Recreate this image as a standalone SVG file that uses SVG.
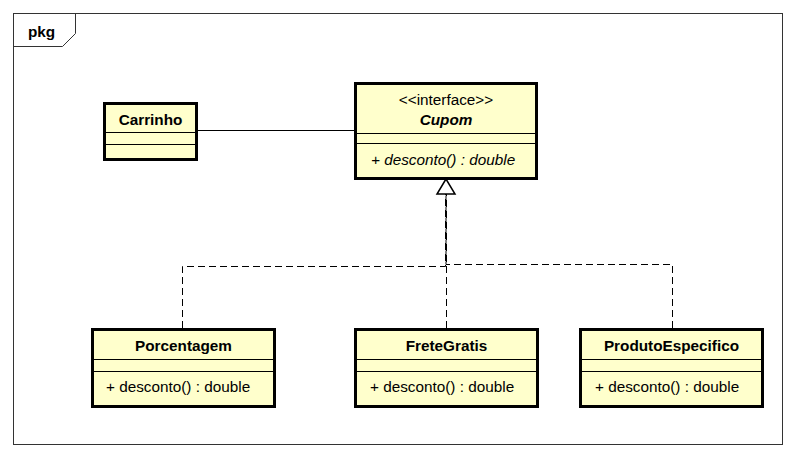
<svg xmlns="http://www.w3.org/2000/svg" width="796" height="458" viewBox="0 0 796 458">
<style>
text{font-family:"Liberation Sans",Arial,sans-serif;font-size:15.3px;fill:#000}
.b{font-weight:bold}
.c{text-anchor:middle}
.box{fill:#FFFFCC;stroke:#000;stroke-width:3}
.div{stroke:#000;stroke-width:1}
.dash{fill:none;stroke:#000;stroke-width:1;stroke-dasharray:7,4}
</style>
<rect width="796" height="458" fill="#fff"/>
<g id="frame">
<rect x="13.5" y="13.5" width="769" height="431" fill="none" stroke="#333" stroke-width="1"/>
<path d="M13.5 46.5 H62.5 L75.5 33.5 V13.5" fill="none" stroke="#333" stroke-width="1"/>
<text class="b" x="28" y="37">pkg</text>
</g>
<g id="connectors">
<line x1="197" y1="130.5" x2="355" y2="130.5" stroke="#000" stroke-width="1"/>
<polyline class="dash" points="182.5,328 182.5,266.5 445.5,266.5 445.5,194"/>
<polyline class="dash" points="446.5,328 446.5,265 446.5,194"/>
<polyline class="dash" points="672.5,328 672.5,264.5 446,264.5 446,194"/>
<polygon points="446,179 437,194 455,194" fill="#fff" stroke="#000" stroke-width="1.5"/>
</g>
<g id="Carrinho">
<rect class="box" x="104.5" y="103.5" width="92" height="56"/>
<line class="div" x1="104.5" y1="132.5" x2="196.5" y2="132.5"/>
<line class="div" x1="104.5" y1="144.5" x2="196.5" y2="144.5"/>
<text class="b c" x="150.5" y="125">Carrinho</text>
</g>
<g id="Cupom">
<rect class="box" x="355.5" y="83.5" width="181" height="95"/>
<line class="div" x1="355.5" y1="133.5" x2="536.5" y2="133.5"/>
<line class="div" x1="355.5" y1="143.5" x2="536.5" y2="143.5"/>
<text class="c" x="446" y="105">&lt;&lt;interface&gt;&gt;</text>
<text class="b c" x="446" y="125" font-style="italic">Cupom</text>
<text x="371" y="165" font-style="italic">+ desconto() : double</text>
</g>
<g id="Porcentagem">
<rect class="box" x="92.5" y="329.5" width="182" height="77"/>
<line class="div" x1="92.5" y1="359.5" x2="274.5" y2="359.5"/>
<line class="div" x1="92.5" y1="371.5" x2="274.5" y2="371.5"/>
<text class="b c" x="183.5" y="351">Porcentagem</text>
<text x="106" y="392">+ desconto() : double</text>
</g>
<g id="FreteGratis">
<rect class="box" x="355.5" y="329.5" width="182" height="77"/>
<line class="div" x1="355.5" y1="359.5" x2="537.5" y2="359.5"/>
<line class="div" x1="355.5" y1="371.5" x2="537.5" y2="371.5"/>
<text class="b c" x="446.5" y="351">FreteGratis</text>
<text x="370" y="392">+ desconto() : double</text>
</g>
<g id="ProdutoEspecifico">
<rect class="box" x="580.5" y="329.5" width="182" height="77"/>
<line class="div" x1="580.5" y1="359.5" x2="762.5" y2="359.5"/>
<line class="div" x1="580.5" y1="371.5" x2="762.5" y2="371.5"/>
<text class="b c" x="671.5" y="351">ProdutoEspecifico</text>
<text x="595" y="392">+ desconto() : double</text>
</g>
</svg>
